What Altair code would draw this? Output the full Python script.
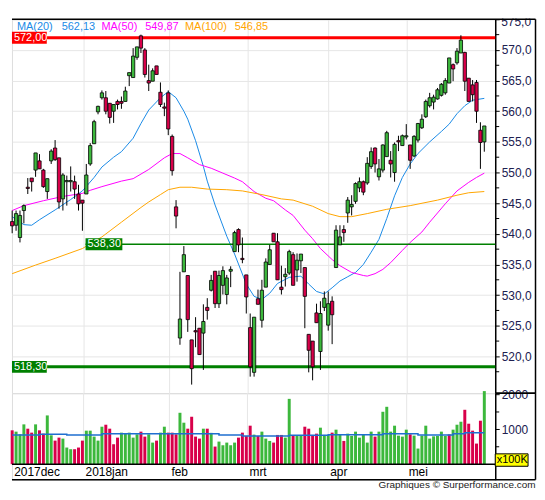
import altair as alt
import pandas as pd

# ---------------- data ----------------
opens = [542.0, 541.4, 539.4, 543.8, 547.6, 549.1, 550.4, 551.9, 550.4, 546.9,
         551.9, 554.0, 552.4, 545.7, 548.5, 548.5, 548.5, 546.5, 545.5, 546.5,
         551.4, 554.7, 559.9, 562.2, 562.2, 561.3, 560.0, 561.6, 561.6, 561.6,
         565.8, 565.5, 568.8, 572.3, 570.0, 565.0, 564.9, 567.4, 563.1, 560.7,
         563.0, 555.9, 544.4, 523.0, 533.8, 533.2, 522.7, 524.2, 524.6, 523.8,
         528.0, 530.8, 533.9, 528.6, 531.6, 530.1, 533.9, 537.1, 540.7, 536.0,
         533.3, 524.7, 517.4, 529.4, 525.9, 531.3, 535.0, 540.1, 538.7, 531.3,
         533.0, 533.6, 536.6, 534.1, 535.6, 534.5, 523.6, 522.5, 527.1, 520.8,
         528.0, 525.1, 529.0, 534.5, 538.2, 540.7, 543.4, 544.4, 545.3, 547.5,
         548.5, 548.3, 551.0, 554.0, 549.3, 550.4, 552.6, 552.0, 550.0, 555.2,
         554.4, 555.8, 554.5, 552.7, 555.3, 557.3, 559.1, 560.9, 561.5, 562.0,
         562.6, 563.0, 564.6, 567.6, 567.9, 569.5, 569.6, 565.4, 564.3, 564.7,
         556.9, 555.0]
highs = [543.8, 543.8, 543.8, 544.8, 549.1, 549.1, 553.2, 553.0, 550.6, 549.0,
         553.8, 555.3, 552.4, 549.9, 549.5, 551.0, 549.5, 548.0, 545.5, 551.4,
         554.8, 558.6, 560.9, 563.4, 563.3, 561.3, 561.1, 561.9, 562.4, 564.0,
         566.3, 570.3, 570.5, 572.5, 570.3, 567.6, 567.0, 567.4, 564.7, 561.4,
         563.4, 556.2, 545.5, 533.8, 538.0, 533.2, 522.7, 526.4, 524.6, 528.5,
         529.5, 533.3, 533.9, 534.0, 534.7, 533.3, 534.7, 540.5, 540.9, 539.4,
         533.3, 527.0, 526.4, 530.9, 532.5, 536.0, 538.2, 540.1, 540.1, 534.8,
         534.4, 537.4, 537.0, 536.8, 536.7, 534.5, 523.6, 522.5, 528.6, 529.0,
         530.6, 530.6, 529.8, 541.4, 541.4, 541.4, 546.0, 546.3, 548.4, 549.2,
         548.7, 552.5, 554.1, 554.1, 552.2, 554.6, 556.8, 553.5, 554.9, 556.0,
         556.2, 557.9, 554.5, 556.1, 558.1, 559.5, 561.9, 563.0, 562.7, 563.8,
         564.6, 565.4, 568.7, 567.8, 570.3, 572.4, 569.7, 565.4, 565.1, 565.1,
         558.2, 557.6]
lows = [540.1, 540.5, 538.6, 541.7, 546.5, 546.9, 549.3, 550.6, 547.5, 545.7,
        551.4, 551.9, 544.1, 543.8, 544.6, 546.9, 545.7, 543.8, 540.5, 546.5,
        551.1, 554.7, 559.5, 561.9, 559.5, 558.0, 558.1, 560.3, 560.4, 561.6,
        564.1, 565.5, 568.4, 569.5, 565.5, 563.3, 564.9, 566.0, 560.7, 559.2,
        556.1, 549.5, 540.9, 521.9, 533.8, 524.0, 515.4, 521.5, 520.3, 517.8,
        526.0, 530.6, 527.9, 527.9, 530.1, 528.5, 531.3, 537.1, 537.0, 535.2,
        527.0, 516.7, 516.7, 528.5, 524.7, 531.3, 535.0, 538.7, 532.5, 530.1,
        531.4, 533.3, 531.6, 532.2, 533.6, 524.6, 517.4, 516.1, 525.5, 517.8,
        527.4, 524.2, 522.0, 534.5, 538.2, 538.7, 541.8, 543.0, 544.9, 546.8,
        546.3, 548.0, 550.6, 550.0, 548.7, 550.0, 552.6, 549.2, 548.5, 553.5,
        554.4, 555.4, 550.6, 552.5, 554.9, 557.1, 558.9, 560.6, 560.3, 561.9,
        562.4, 562.7, 564.6, 564.9, 567.6, 569.5, 563.3, 561.6, 561.6, 558.1,
        550.6, 553.4]
closes = [541.3, 543.3, 543.0, 544.6, 547.4, 548.5, 553.2, 550.6, 547.7, 549.0,
          553.5, 552.1, 545.2, 549.6, 548.7, 548.7, 547.3, 544.9, 545.0, 549.6,
          554.4, 558.3, 560.8, 563.0, 560.0, 559.0, 561.1, 561.1, 561.3, 563.3,
          566.3, 569.0, 570.5, 570.3, 566.0, 564.6, 566.6, 566.0, 561.1, 560.5,
          557.1, 550.3, 542.9, 526.1, 536.6, 526.0, 518.0, 524.0, 520.3, 525.7,
          527.5, 532.4, 528.6, 533.2, 534.0, 532.8, 534.2, 540.2, 538.2, 535.8,
          529.7, 518.3, 526.4, 528.5, 530.8, 535.4, 537.4, 538.7, 532.5, 530.9,
          533.4, 537.1, 531.6, 535.7, 536.7, 529.8, 521.0, 518.3, 525.5, 527.0,
          529.5, 528.6, 526.8, 540.6, 539.5, 540.2, 545.5, 544.8, 548.2, 548.5,
          546.8, 551.5, 553.4, 551.4, 550.6, 554.5, 556.5, 551.4, 554.6, 555.0,
          556.0, 556.0, 552.0, 555.9, 558.0, 558.7, 561.6, 562.2, 562.3, 563.5,
          564.4, 565.0, 568.7, 566.9, 569.8, 571.6, 564.9, 561.6, 562.7, 560.0,
          554.9, 557.6]

volumes = [973, 935, 858, 1144, 1020, 906, 1144, 973, 877, 1401,
           830, 677, 763, 735, 478, 430, 430, 478, 677, 963,
           963, 792, 677, 1077, 1134, 1020, 573, 763, 906, 877,
           906, 763, 858, 935, 792, 858, 620, 677, 906, 1077,
           906, 906, 858, 1477, 1192, 1020, 1363, 792, 735, 1020,
           1020, 900, 506, 649, 544, 620, 544, 620, 763, 906,
           811, 1106, 849, 811, 935, 735, 668, 620, 840, 840,
           763, 1877, 811, 811, 811, 1077, 1020, 811, 877, 1049,
           840, 840, 906, 992, 840, 668, 877, 811, 935, 763,
           840, 620, 935, 792, 935, 1506, 1649, 935, 1106, 820,
           792, 992, 858, 820, 449, 820, 1106, 735, 800, 811,
           935, 811, 858, 992, 1134, 1220, 1563, 1163, 963, 592,
           1249, 2100]
vol_up = [0, 1, 1, 1, 0, 0, 1, 0, 0, 1,
          1, 0, 0, 1, 1, 1, 0, 0, 0, 1,
          1, 1, 1, 1, 0, 0, 0, 0, 1, 1,
          1, 1, 1, 0, 0, 1, 1, 0, 1, 1,
          0, 0, 0, 1, 1, 0, 0, 0, 0, 1,
          0, 1, 0, 1, 1, 1, 1, 1, 0, 0,
          0, 0, 1, 0, 1, 1, 1, 0, 0, 0,
          1, 1, 0, 1, 1, 0, 0, 0, 0, 1,
          1, 1, 0, 1, 1, 0, 1, 1, 1, 1,
          1, 1, 1, 0, 1, 1, 1, 1, 1, 1,
          1, 1, 0, 1, 1, 1, 1, 1, 1, 1,
          1, 1, 0, 1, 1, 1, 0, 0, 0, 0,
          0, 1]

ma20_idx = [0, 3, 5, 7, 11, 15, 18, 21, 23, 26, 28, 31, 33, 35, 38, 40, 42, 44, 45, 47,
            49, 50, 52, 55, 57, 60, 62, 64, 66, 68, 71, 74, 76, 78, 80, 82, 84, 86, 88, 90,
            92, 94, 96, 98, 100, 102, 104, 107, 110, 112, 114, 116, 118, 121]
ma20_val = [542.8, 541.5, 541.4, 542.3, 543.9, 545.6, 547.0, 549.2, 550.9, 552.5, 553.4, 555.6,
            558.0, 560.2, 562.2, 563.2, 562.2, 560.0, 558.7, 555.2, 551.0, 548.6, 544.7, 539.6,
            536.7, 531.8, 529.8, 529.3, 530.3, 531.9, 532.9, 533.1, 531.8, 530.6, 530.2, 531.2,
            532.3, 533.0, 533.7, 535.0, 537.0, 539.1, 542.5, 546.2, 549.2, 551.4, 553.1, 555.0,
            556.7, 557.9, 559.6, 560.9, 561.8, 562.1]
ma50_idx = [0, 3, 8, 13, 18, 20, 23, 28, 31, 35, 39, 41, 43, 45, 48, 51, 54, 57, 59, 62,
            65, 67, 70, 72, 75, 77, 79, 82, 84, 87, 90, 91, 93, 95, 97, 100, 102, 105, 107, 109,
            111, 114, 117, 119, 121]
ma50_val = [543.8, 544.6, 545.4, 546.1, 546.6, 547.1, 547.7, 548.6, 549.0, 550.5, 552.4, 553.1,
            553.1, 552.4, 551.3, 550.7, 549.9, 549.1, 548.5, 546.9, 545.8, 545.4, 543.9, 543.0,
            540.6, 539.2, 537.6, 535.8, 534.8, 533.7, 533.2, 533.1, 533.5, 534.2, 535.3, 537.3,
            538.6, 540.3, 541.9, 543.4, 544.9, 547.0, 548.4, 549.2, 549.9]
ma100_idx = [0, 6, 11, 18, 23, 28, 33, 35, 38, 40, 43, 46, 50, 55, 59, 64, 69, 72, 77, 81,
             84, 87, 91, 96, 102, 109, 114, 117, 121]
ma100_val = [533.5, 534.9, 536.0, 537.6, 539.5, 541.9, 544.3, 545.2, 546.4, 547.2, 547.6, 547.6,
             547.3, 547.2, 547.0, 546.4, 545.7, 545.5, 544.5, 543.3, 542.8, 542.8, 543.3, 544.0,
             544.6, 545.5, 546.3, 546.7, 546.9]

volavg_idx = [0, 7, 14, 23, 53, 59, 71, 81, 95, 104, 113, 116, 121]
volavg_val = [839, 858, 839, 877, 839, 811, 830, 849, 877, 839, 877, 906, 906]

levels = [572.00, 538.30, 518.30]
level_start = [-0.05, 18.8, -0.05]

month_names = ["2017dec", "2018jan", "feb", "mrt", "apr", "mei"]
month_pos = [0.0, 18.3, 40.3, 60.3, 81.0, 101.1]
month_grid = [18.3, 40.3, 60.3, 81.0, 101.1]

price_ticks = [520, 525, 530, 535, 540, 545, 550, 555, 560, 565, 570, 575]
price_minor = [517.5, 522.5, 527.5, 532.5, 537.5, 542.5, 547.5, 552.5, 557.5, 562.5, 567.5, 572.5]
vol_ticks = [1000, 2000]
vol_minor = [500, 1500]

ma_last = ["562,13", "549,87", "546,85"]

# ---------------- layout / style ----------------
W = 486
HP = 376
HV = 87
FR = 526.5
TOPGAP = 9
XDOM = [-0.05, 123.8]
PDOM = [514.0, 575.0]
VDOM = [-446, 2040]

GREEN = "#3cb83c"
RED = "#d8004a"
BLUE = "#1a8ae6"
MAGENTA = "#ff00ff"
ORANGE = "#ffa500"
FONT = "Liberation Sans"
LABEL = "#202050"

n = len(closes)
idx = list(range(n))
candles = pd.DataFrame({"i": idx, "o": opens, "h": highs, "l": lows, "c": closes})
candles["dir"] = ["up" if c >= o else "down" for o, c in zip(opens, closes)]
vol = pd.DataFrame({"i": idx, "v": volumes, "dir": ["up" if u else "down" for u in vol_up]})

xs = alt.Scale(domain=XDOM, nice=False, zero=False)
ps = alt.Scale(domain=PDOM, nice=False, zero=False)
vs = alt.Scale(domain=VDOM, nice=False, zero=False)
dir_scale = alt.Scale(domain=["up", "down"], range=[GREEN, RED])

x_axis_p = alt.Axis(values=month_grid, grid=True, gridColor="#e6e6e6", gridWidth=1,
                    labels=False, ticks=False, domain=False, title=None)
y_axis_p = alt.Axis(orient="right", values=price_ticks,
                    labelExpr="datum.value >= 575 ? '' : replace(format(datum.value, '.1f'), '.', ',')",
                    tickSize=4, tickColor="black", tickWidth=1,
                    domainColor="black", domainWidth=1.5,
                    labelColor=LABEL, labelFont=FONT, labelFontSize=12, labelPadding=2,
                    grid=True, gridColor="#e6e6e6", gridWidth=1, title=None)
y_axis_v = alt.Axis(orient="right", values=vol_ticks, format="d",
                    tickSize=4, tickColor="black", tickWidth=1,
                    domainColor="black", domainWidth=1.5,
                    labelColor=LABEL, labelFont=FONT, labelFontSize=12, labelPadding=2,
                    grid=False, title=None)


def PX(field):
    return alt.X(field, type="quantitative", scale=xs, axis=x_axis_p)


def PY(field):
    return alt.Y(field, type="quantitative", scale=ps, axis=y_axis_p)


def VX(field):
    return alt.X(field, type="quantitative", scale=xs, axis=None)


def VY(field):
    return alt.Y(field, type="quantitative", scale=vs, axis=y_axis_v)


one = pd.DataFrame({"k": [0]})

# ---------------- price panel ----------------
ma_df = pd.concat([
    pd.DataFrame({"i": ma20_idx, "v": ma20_val, "s": "MA20"}),
    pd.DataFrame({"i": ma50_idx, "v": ma50_val, "s": "MA50"}),
    pd.DataFrame({"i": ma100_idx, "v": ma100_val, "s": "MA100"}),
])
ma_lines = alt.Chart(ma_df).mark_line(strokeWidth=1).encode(
    x=PX("i"), y=PY("v"),
    color=alt.Color("s:N", scale=alt.Scale(domain=["MA20", "MA50", "MA100"],
                                           range=[BLUE, MAGENTA, ORANGE]), legend=None),
)


def level_line(k, color, width):
    df = pd.DataFrame({"y": [levels[k]], "x0": [level_start[k]], "x1": [XDOM[1]]})
    return alt.Chart(df).mark_rule(color=color, strokeWidth=width).encode(
        x=PX("x0"), x2=alt.X2("x1"), y=PY("y"))


def level_box(k, color, px0, px1):
    df = pd.DataFrame({"y": [levels[k]], "t": [f"{levels[k]:.2f}".replace(".", ",")]})
    box = alt.Chart(df).transform_calculate(
        yt="datum.y + 0.97", yb="datum.y - 0.97"
    ).mark_rect(color=color).encode(
        x=alt.value(px0), x2=alt.value(px1), y=PY("yt"), y2=alt.Y2("yb"))
    txt = alt.Chart(df).mark_text(align="left", baseline="middle", color="white",
                                  font=FONT, fontSize=11).encode(
        x=alt.value(px0 + 2), y=PY("y"), text="t:N")
    return box + txt


wicks = alt.Chart(candles).mark_rule(color="black", strokeWidth=1).encode(
    x=PX("i"), y=PY("l"), y2=alt.Y2("h"))
bodies = alt.Chart(candles).transform_calculate(
    x0="datum.i - 0.42", x1="datum.i + 0.42"
).mark_rect(stroke="black", strokeWidth=0.8).encode(
    x=PX("x0"), x2=alt.X2("x1"), y=PY("o"), y2=alt.Y2("c"),
    fill=alt.Fill("dir:N", scale=dir_scale, legend=None))

minor_p = alt.Chart(pd.DataFrame({"y": price_minor})).mark_rule(color="black", strokeWidth=1).encode(
    x=alt.value(W), x2=alt.value(W + 4), y=PY("y"))

legend_layers = []
for txt, col, px in [("MA(20)", BLUE, 5), (ma_last[0], BLUE, 50),
                     ("MA(50)", MAGENTA, 90), (ma_last[1], MAGENTA, 134),
                     ("MA(100)", ORANGE, 174), (ma_last[2], ORANGE, 224)]:
    legend_layers.append(
        alt.Chart(one).mark_text(text=txt, color=col, align="left", baseline="middle",
                                 font=FONT, fontSize=11).encode(
            x=alt.value(px), y=alt.value(7.5)))

# top tick label, cut by the frame as in the original
top_label = alt.Chart(one).mark_text(text="575,0", align="left", baseline="middle",
                                     font=FONT, fontSize=12, color=LABEL).encode(
    x=alt.value(W + 6), y=alt.value(2.5))
cover = alt.Chart(one).mark_rect(color="white").encode(
    x=alt.value(W + 1), x2=alt.value(FR - 1), y=alt.value(-TOPGAP), y2=alt.value(-0.75))

frame_p = [
    alt.Chart(one).mark_rule(color="black", strokeWidth=1.5).encode(
        x=alt.value(0), x2=alt.value(FR), y=alt.value(0)),
    alt.Chart(one).mark_rule(color="black", strokeWidth=1.5).encode(
        x=alt.value(FR), y=alt.value(0), y2=alt.value(HP)),
    alt.Chart(one).mark_rule(color="black", strokeWidth=1.5).encode(
        x=alt.value(W), x2=alt.value(FR), y=alt.value(HP)),
]

price = alt.layer(
    ma_lines,
    level_line(1, "#008000", 1.5),
    level_line(0, "#ff0000", 3),
    level_line(2, "#008000", 3),
    wicks, bodies,
    level_box(0, "#ff0000", 0, 35),
    level_box(1, "#008000", 74, 111),
    level_box(2, "#008000", 0, 35),
    minor_p,
    *legend_layers,
    top_label, cover,
    *frame_p,
).properties(width=W, height=HP)

# ---------------- volume panel ----------------
grid_v = alt.Chart(pd.DataFrame({"g": month_grid, "lo": 0, "hi": VDOM[1]})).mark_rule(
    color="#e6e6e6", strokeWidth=1).encode(x=VX("g"), y=VY("lo"), y2=alt.Y2("hi"))
vbars = alt.Chart(vol).transform_calculate(
    x0="datum.i - 0.38", x1="datum.i + 0.38", z="0"
).mark_rect().encode(
    x=VX("x0"), x2=alt.X2("x1"), y=VY("v"), y2=alt.Y2("z"),
    fill=alt.Fill("dir:N", scale=dir_scale, legend=None))
vavg = alt.Chart(pd.DataFrame({"i": volavg_idx, "v": volavg_val})).mark_line(
    interpolate="step-after", color="#1f6fd0", strokeWidth=1.5).encode(x=VX("i"), y=VY("v"))
baseline = alt.Chart(pd.DataFrame({"z": [0]})).mark_rule(color="black", strokeWidth=1.5).encode(
    y=VY("z"))
months = alt.Chart(pd.DataFrame({"m": month_names, "x": month_pos})).mark_text(
    align="left", baseline="middle", dx=2, font=FONT, fontSize=12, color="black").encode(
    x=VX("x"), y=alt.value(HV - 8), text="m:N")
minor_v = alt.Chart(pd.DataFrame({"y": vol_minor})).mark_rule(color="black", strokeWidth=1).encode(
    x=alt.value(W), x2=alt.value(W + 4), y=VY("y"))
unit_box = (
    alt.Chart(one).mark_rect(fill="#ffff00", stroke="black", strokeWidth=1).encode(
        x=alt.value(W), x2=alt.value(W + 33), y=alt.value(HV - 26), y2=alt.value(HV - 13.5))
    + alt.Chart(one).mark_text(text="x100K", align="left", baseline="middle",
                               font=FONT, fontSize=11, color="black").encode(
        x=alt.value(W + 1.5), y=alt.value(HV - 19.5))
)
frame_v = [
    alt.Chart(one).mark_rule(color="black", strokeWidth=1.5).encode(
        x=alt.value(FR), y=alt.value(0), y2=alt.value(HV)),
    alt.Chart(one).mark_rule(color="black", strokeWidth=1.5).encode(
        x=alt.value(0), x2=alt.value(FR), y=alt.value(HV)),
    alt.Chart(one).mark_rule(color="black", strokeWidth=1.5).encode(
        x=alt.value(W), x2=alt.value(FR), y=alt.value(0)),
]
credit = alt.Chart(one).mark_text(text="Graphiques © Surperformance.com", align="right",
                                  baseline="middle", font=FONT, fontSize=10,
                                  color="#222222").encode(
    x=alt.value(FR), y=alt.value(HV + 5.5))

volume = alt.layer(
    grid_v, vbars, vavg, baseline, months, minor_v, unit_box, *frame_v, credit
).properties(width=W, height=HV)

chart = alt.vconcat(price, volume, spacing=0, bounds="flush").properties(
    padding={"top": 0, "left": 0, "right": 0, "bottom": 0}
).configure_view(stroke="black", strokeWidth=1.5).configure(font=FONT)

chart.save("out.html", embed_options={"renderer": "svg", "actions": False})
